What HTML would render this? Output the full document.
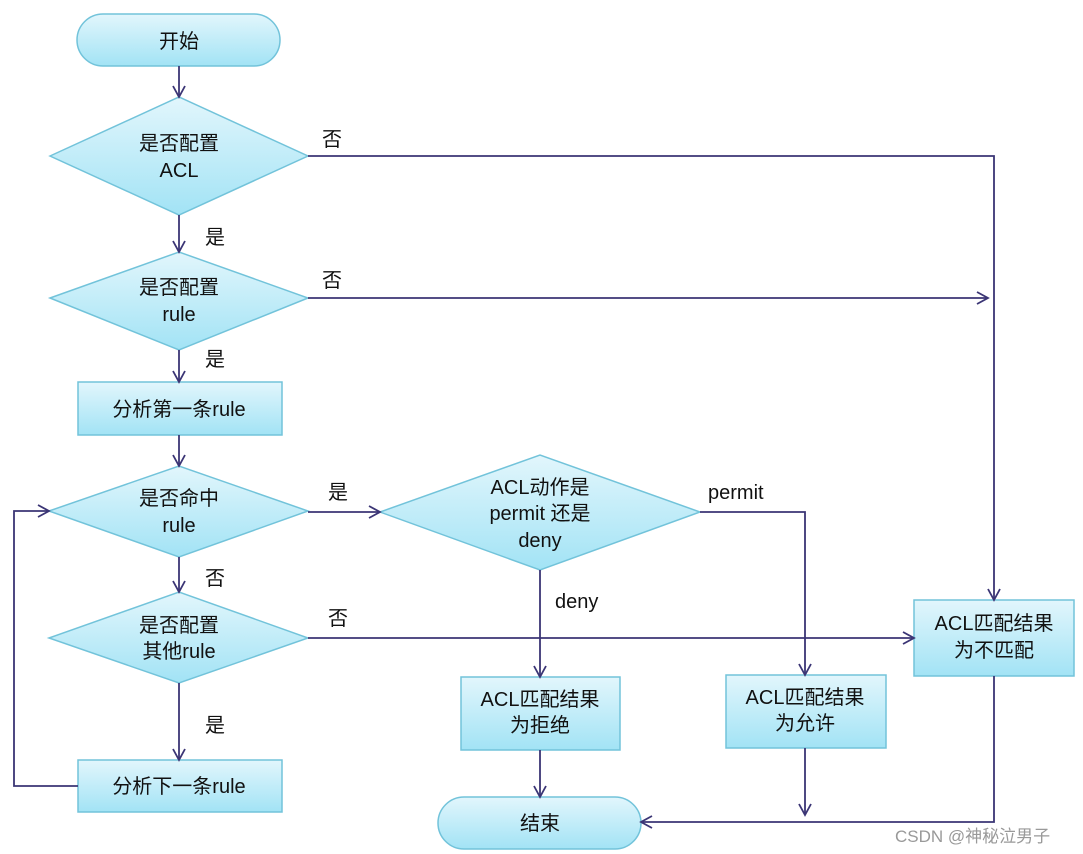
<!DOCTYPE html>
<html><head><meta charset="utf-8"><style>
html,body{margin:0;padding:0;background:#fff;}
svg{display:block;}
text{font-family:"Liberation Sans","Noto Sans CJK SC",sans-serif;font-size:20px;fill:#111;}
</style></head><body>
<svg width="1083" height="854" viewBox="0 0 1083 854" xmlns="http://www.w3.org/2000/svg">
<defs>
<linearGradient id="g" x1="0" y1="0" x2="0" y2="1">
<stop offset="0" stop-color="#e2f6fc"/><stop offset="1" stop-color="#a2e3f5"/>
</linearGradient>
<marker id="a" markerWidth="14" markerHeight="14" refX="12" refY="7" orient="auto" markerUnits="userSpaceOnUse">
<path d="M1,1 L12,7 L1,13" fill="none" stroke="#3b3575" stroke-width="1.8"/>
</marker>
</defs>
<g fill="url(#g)" stroke="#72c3da" stroke-width="1.5">
<rect x="77" y="14" width="203" height="52" rx="26"/>
<polygon points="50,156 179,97 308,156 179,215"/>
<polygon points="50,298 179,252 308,298 179,350"/>
<rect x="78" y="382" width="204" height="53"/>
<polygon points="49,511 179,466 308,511 179,557"/>
<polygon points="380,512 540,455 700,512 540,570"/>
<polygon points="49,638 179,592 308,638 179,683"/>
<rect x="78" y="760" width="204" height="52"/>
<rect x="461" y="677" width="159" height="73"/>
<rect x="726" y="675" width="160" height="73"/>
<rect x="914" y="600" width="160" height="76"/>
<rect x="438" y="797" width="203" height="52" rx="26"/>
</g>
<g fill="none" stroke="#3b3575" stroke-width="1.8">
<path d="M179,66 V97" marker-end="url(#a)"/>
<path d="M308,156 H994 V600" marker-end="url(#a)"/>
<path d="M179,215 V252" marker-end="url(#a)"/>
<path d="M308,298 H988" marker-end="url(#a)"/>
<path d="M179,350 V382" marker-end="url(#a)"/>
<path d="M179,435 V466" marker-end="url(#a)"/>
<path d="M308,512 H380" marker-end="url(#a)"/>
<path d="M700,512 H805 V675" marker-end="url(#a)"/>
<path d="M540,570 V677" marker-end="url(#a)"/>
<path d="M179,557 V592" marker-end="url(#a)"/>
<path d="M308,638 H914" marker-end="url(#a)"/>
<path d="M179,683 V760" marker-end="url(#a)"/>
<path d="M78,786 H14 V511 H49" marker-end="url(#a)"/>
<path d="M540,750 V797" marker-end="url(#a)"/>
<path d="M805,748 V815" marker-end="url(#a)"/>
<path d="M994,676 V822 H641" marker-end="url(#a)"/>
</g>
<g text-anchor="middle">
<text x="179" y="48">开始</text>
<text x="179" y="150">是否配置</text><text x="179" y="177">ACL</text>
<text x="179" y="294">是否配置</text><text x="179" y="321">rule</text>
<text x="179" y="416">分析第一条rule</text>
<text x="179" y="505">是否命中</text><text x="179" y="532">rule</text>
<text x="540" y="494">ACL动作是</text><text x="540" y="520">permit 还是</text><text x="540" y="547">deny</text>
<text x="179" y="632">是否配置</text><text x="179" y="658">其他rule</text>
<text x="179" y="793">分析下一条rule</text>
<text x="540" y="706">ACL匹配结果</text><text x="540" y="732">为拒绝</text>
<text x="805" y="704">ACL匹配结果</text><text x="805" y="730">为允许</text>
<text x="994" y="630">ACL匹配结果</text><text x="994" y="657">为不匹配</text>
<text x="540" y="830">结束</text>
</g>
<text x="322" y="146">否</text>
<text x="205" y="244">是</text>
<text x="322" y="287">否</text>
<text x="205" y="366">是</text>
<text x="328" y="499">是</text>
<text x="708" y="499">permit</text>
<text x="205" y="585">否</text>
<text x="328" y="625">否</text>
<text x="555" y="608">deny</text>
<text x="205" y="732">是</text>
<text x="895" y="842" style="font-size:17px;fill:#999">CSDN @神秘泣男子</text>
</svg>
</body></html>
